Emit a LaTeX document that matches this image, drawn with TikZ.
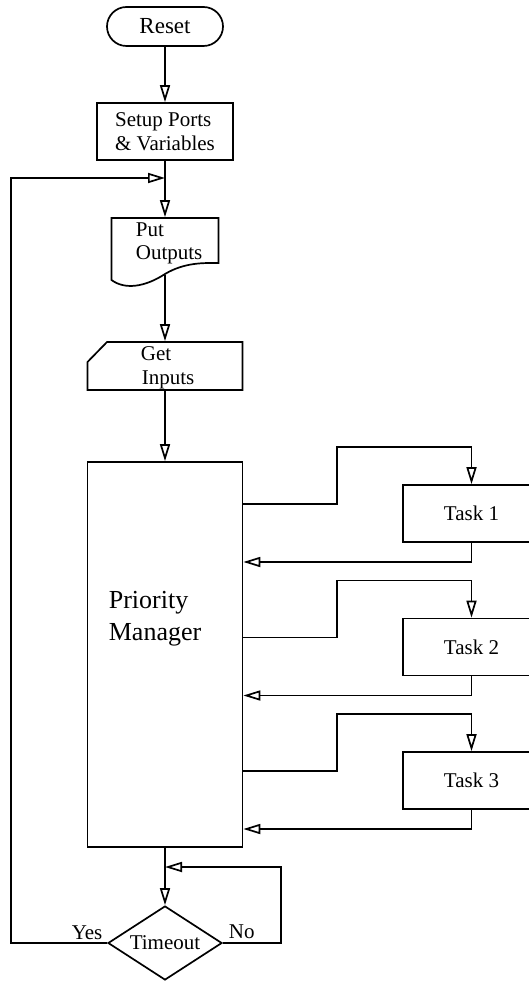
\documentclass[tikz,border=0pt]{standalone}
\usepackage{fontspec}
\setmainfont{Liberation Serif}
\usetikzlibrary{arrows.meta,shapes.misc,shapes.geometric}
\begin{document}
\begin{tikzpicture}[x=1pt,y=-1pt,
  line width=1.7pt, line join=miter,
  every node/.style={font=\fontsize{21}{24}\selectfont, inner sep=0pt},
  box/.style={draw, rectangle},
  flow/.style={-{Triangle[open,length=17pt,width=10pt,fill=white]}},
  bigtext/.style={font=\fontsize{26}{32}\selectfont},
  lbl/.style={anchor=base west},
]
\useasboundingbox (0,0) rectangle (528,981);

% main column
\node[draw, rounded rectangle, minimum width=116pt, minimum height=39pt,
      font=\fontsize{23}{26}\selectfont] (reset) at (165,26.5) {Reset};
\node[box, minimum width=136pt, minimum height=57pt, align=left] (setup) at (165,131.5) {Setup Ports\\\& Variables};

% "Put Outputs" document symbol
\node[minimum width=107pt, minimum height=56pt] (put) at (165,246) {};
\draw (111.5,218) -- (218.5,218) -- (218.5,263)
      .. controls (205,263) and (185,262) .. (165,274)
      .. controls (145,287) and (125,290) .. (111.5,280) -- cycle;
\node[lbl] (put1) at (135,237) {Put};
\node[lbl] (put2) at (135,260) {Outputs};

% "Get Inputs" manual input symbol
\node[minimum width=155pt, minimum height=48pt] (gi) at (165,366) {};
\draw (107,342) -- (242.5,342) -- (242.5,390) -- (87.5,390) -- (87.5,362) -- cycle;
\node[lbl] (gi1) at (140,360) {Get};
\node[lbl] (gi2) at (141,384) {Inputs};

% priority manager
\node[box, minimum width=155pt, minimum height=385pt] (pm) at (165,654.5) {};
\node[lbl, bigtext] (pm1) at (108,608) {Priority};
\node[lbl, bigtext] (pm2) at (108,640) {Manager};

% timeout decision
\node[draw, diamond, aspect=1.54, minimum width=114pt, minimum height=74pt] (tmo) at (165,943) {Timeout};
\node[lbl] (yes) at (71,939) {Yes};
\node[lbl] (no) at (228,938) {No};

% junctions on the main trunk
\coordinate (j1) at (165,178);
\coordinate (j2) at (165,867);

\draw[flow] (reset) -- (setup);
\draw[flow] (setup) -- (put);
\draw[flow] (put) -- (gi);
\draw[flow] (gi) -- (pm);
\draw[flow] (pm) -- (tmo);
\draw[flow] (tmo.west) -- ++(-96,0) |- (j1);
\draw[flow] (tmo.east) -- ++(58,0) |- (j2);

% tasks
\foreach \i/\y in {1/513.5, 2/647, 3/780.5} {
  \node[box, minimum width=137pt, minimum height=57pt] (task\i) at (471.5,\y) {Task \i};
  \draw[flow] (pm.east |- 0,{\y-9.5}) -| (337,{\y-66.5}) -| (task\i.north);
  \draw[flow] (task\i.south) |- (pm.east |- 0,{\y+48.5});
}
\end{tikzpicture}
\end{document}
